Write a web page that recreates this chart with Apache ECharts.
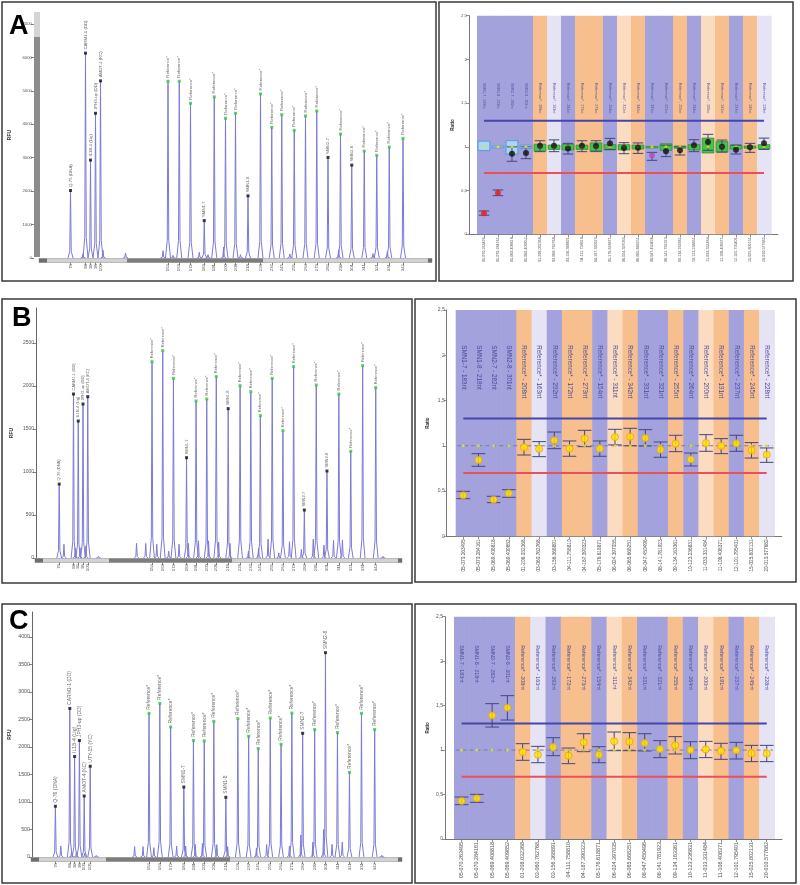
<!DOCTYPE html>
<html><head><meta charset="utf-8">
<script src="https://cdn.jsdelivr.net/npm/echarts@6/dist/echarts.min.js"></script>
<style>html,body{margin:0;padding:0;background:#fff}#c{width:800px;height:885px}</style>
</head><body><div id="c"></div>
<script>
// ================= DATA =================
// Electropherograms: fragment sizes (nt), peak names, peak heights (RFU)
const sizesAB = [76,88,92,96,100,154,163,172,183,191,200,208,218,228,237,245,255,264,273,282,292,301,311,321,331,342];
const sizesC  = [76,88,92,96,100,105,154,163,172,183,191,200,208,218,228,237,245,255,264,273,282,292,301,311,321,331,342];
const namesAB = ['Q-76 (DNA)','CARM1-1 (DD)','IL1B-4 (Lig)','JPH3-up (DD)','AMOT-4 (KC)',
  'Reference*','Reference*','Reference*','SMN1-7','Reference*','Reference*','Reference*','SMN1-8','Reference*','Reference*',
  'Reference*','Reference*','Reference*','Reference*','SMN2-7','Reference*','SMN2-8','Reference*','Reference*','Reference*','Reference*'];
const namesC = ['Q-76 (DNA)','CARM1-1 (DD)','IL1B-4 (Lig)','JPH3-up (DD)','AMOT-4 (KC)','UTY-15 (YC)',
  'Reference*','Reference*','Reference*','SMN1-7','Reference*','Reference*','Reference*','SMN1-8','Reference*','Reference*',
  'Reference*','Reference*','Reference*','Reference*','SMN2-7','Reference*','SMN2-8','Reference*','Reference*','Reference*','Reference*'];
const heightsA = [2020,6130,2930,4330,5300, 5290,5290,4630,1120,4820,4180,4330,1860,4910,3910,4290,3820,4250,4400,3010,3710,2780,3200,3070,3320,3580];
const heightsB = [860,1907,1593,1791,1876, 2283,2411,2089,1167,1826,1849,2109,1737,2004,1934,1655,2089,1481,2225,558,2012,1012,1907,1241,2237,1981];
const heightsC = [923,2702,1828,2118,1110,1651, 2612,2793,2365,1273,2118,2112,2467,1086,2516,2196,1973,2528,2051,2618,2250,2317,3716,2262,1538,2612,2317];
// unlabelled minor peaks [size, RFU]
const minorA = [[86,130],[102,230],[120,150],[150,220],[158,80],[179,170],[186,100],[198.5,330],[212,100],[251.5,120],[290.5,250],[318,130],[329.5,200]];
const minorB = [[80,160],[89.5,115],[93.5,120],[98.5,140],[109,20],[141,170],[148.7,170],[158,160],[168,80],[176.7,160],[184.5,170],[193,200],[201.5,200],[210,185],[219.5,170],[235,80],[243.5,115],[251.5,220],[260.5,60],[269.5,190],[279.5,100],[289.5,220],[298.5,150],[306.5,205],[314,210],[348,20]];
const minorC = [[80.5,200],[89.5,100],[93.5,80],[100.5,70],[110,30],[142,190],[149,190],[158,170],[177,200],[184.5,200],[192.5,230],[198.5,245],[210.5,225],[219.5,190],[243.5,165],[252,225],[271,200],[280.5,400],[290.5,270],[299.5,500],[306.5,230],[315,270],[348,30]];
const rfuTicksA = [0,1000,2000,3000,4000,5000,6000,7000];
const rfuTicksB = [0,500,1000,1500,2000,2500];
const rfuTicksC = [0,500,1000,1500,2000,2500,3000,3500,4000];

// Ratio charts
const probeNames = ['SMN1-7 - 183nt','SMN1-8 - 218nt','SMN2-7 - 282nt','SMN2-8 - 301nt',
  'Reference* - 208nt','Reference* - 163nt','Reference* - 292nt','Reference* - 172nt','Reference* - 273nt','Reference* - 154nt',
  'Reference* - 311nt','Reference* - 342nt','Reference* - 331nt','Reference* - 321nt','Reference* - 255nt','Reference* - 264nt',
  'Reference* - 200nt','Reference* - 191nt','Reference* - 237nt','Reference* - 245nt','Reference* - 228nt'];
const probeLoci = ['05-070.263495','05-070.284161','05-069.408818','05-069.409852','01-208.032368','03-060.762768','03-156.368891',
  '04-111.758810','04-187.390323','05-176.618871','06-024.397035','06-065.668251','08-047.450496','08-141.781923','09-134.163361',
  '10-123.236831','11-033.331484','11-108.408371','12-101.795401','15-025.802131','20-010.577682'];
const bandKinds = ['p','p','p','p','o','l','p','o','o','p','k','o','p','p','o','p','k','o','p','o','l'];
const ratioA = [0.24,0.476,0.922,0.93,1.014,1.014,0.98,1.014,1.01,1.037,0.987,0.99,0.90,0.949,0.96,1.017,1.056,1.002,0.968,0.995,1.04];
const lowA   = [0.218,0.442,0.835,0.865,0.945,0.945,0.918,0.945,0.95,0.97,0.922,0.925,0.846,0.888,0.907,0.945,0.96,0.94,0.918,0.937,0.97];
const highA  = [0.267,0.507,1.0,1.0,1.07,1.08,1.04,1.07,1.07,1.097,1.048,1.045,0.937,1.018,1.0,1.082,1.143,1.078,1.02,1.04,1.1];
const boxLowA  = [0.958,0.99,0.918,0.98,0.95,0.97,0.965,0.97,0.945,0.965,0.965,0.975,0.995,0.96,0.985,0.965,0.93,0.94,0.975,0.985,0.975];
const boxHighA = [1.065,1.01,1.071,1.02,1.03,1.02,1.03,1.02,1.045,1.025,1.025,1.02,1.005,1.035,1.01,1.025,1.1,1.06,1.02,1.01,1.025];
const ratioB = [0.453,0.843,0.405,0.475,0.983,0.965,1.06,0.968,1.079,0.968,1.097,1.1,1.086,0.957,1.024,0.85,1.031,1.0,1.027,0.95,0.902];
const lowB   = [0.416,0.773,0.372,0.431,0.898,0.88,0.968,0.884,0.99,0.884,1.01,1.0,0.998,0.873,0.935,0.777,0.939,0.913,0.939,0.865,0.817];
const highB  = [0.497,0.913,0.442,0.515,1.071,1.046,1.152,1.053,1.171,1.053,1.182,1.193,1.178,1.042,1.116,0.92,1.123,1.079,1.116,1.035,0.976];
const ratioC = [0.427,0.457,1.39,1.477,0.978,0.948,1.034,0.937,1.087,0.948,1.098,1.094,1.079,1.012,1.053,1.001,1.008,0.99,0.997,0.963,0.96];
const lowC   = [0.386,0.412,1.259,1.338,0.885,0.858,0.937,0.847,0.982,0.858,0.993,0.993,0.99,0.915,0.956,0.903,0.915,0.896,0.9,0.87,0.87];
const highC  = [0.472,0.502,1.522,1.612,1.072,1.042,1.139,1.023,1.184,1.038,1.203,1.196,1.184,1.106,1.151,1.094,1.098,1.076,1.087,1.053,1.053];
const thresholds = [0.7, 1.3];
const normalRatio = 1;
const ratioTicks = [0,0.5,1,1.5,2,2.5];

// ================= STYLE / LAYOUT =================
const FONT = 'Liberation Sans, Arial, sans-serif';
const TRACE = '#7b7bd8';
const BAND = {p:'#a3a2dc', o:'#f6bf8d', k:'#fcdcc0', l:'#e5e3f4'};
const option = {animation:false, backgroundColor:'#ffffff', grid:[], xAxis:[], yAxis:[], series:[], graphic:[]};

function addEP(c) {
  const gi = option.grid.length;
  option.grid.push({left:c.left, top:c.top, width:c.width, height:c.height, containLabel:false, outerBoundsMode:'none'});
  option.xAxis.push({type:'value', gridIndex:gi, min:c.xMin, max:c.xMax, offset:4,
    axisLine:{show:false, onZero:false}, splitLine:{show:false},
    axisTick:{show:true, customValues:c.sizes, length:3, lineStyle:{color:'#666', width:0.8}},
    axisLabel:{show:true, customValues:c.sizes, rotate:90, fontSize:4.3, color:'#555', fontFamily:FONT, margin:2,
      formatter: v => String(v)}});
  option.yAxis.push({type:'value', gridIndex:gi, min:0, max:c.yMax, offset:c.yOffset,
    name:'RFU', nameLocation:'middle', nameRotate:90, nameGap:c.nameGap,
    nameTextStyle:{fontSize:5, fontWeight:'bold', color:'#333', fontFamily:FONT},
    axisLine:{show:c.yLine, onZero:false, lineStyle:{color:'#666', width:1}},
    axisTick:{show:true, customValues:c.ticks, length:3, lineStyle:{color:'#666', width:0.8}},
    axisLabel:{show:true, customValues:c.ticks, fontSize:c.yFont, color:'#555', fontFamily:FONT, margin:2,
      formatter: v => String(v)},
    splitLine:{show:false}});
  const all = c.sizes.map((s,i)=>[s,c.heights[i]]).concat(c.minor);
  option.series.push({type:'custom', xAxisIndex:gi, yAxisIndex:gi, silent:true, z:2,
    data: all, encode:{x:0, y:1},
    renderItem:(p, api) => {
      const s = api.value(0), h = api.value(1), w = 2.0;
      const pts = [[s-w,0],[s-w*0.3,h*0.1],[s,h],[s+w*0.3,h*0.1],[s+w,0]].map(q => api.coord(q));
      return {type:'polyline', shape:{points:pts}, style:{stroke:TRACE, lineWidth:1, fill:null}};
    }});
  option.series.push({type:'scatter', xAxisIndex:gi, yAxisIndex:gi, symbol:'rect', symbolSize:3, z:4, silent:true,
    data: c.sizes.map((s,i)=>({name:c.names[i], value:[s,c.heights[i]],
      itemStyle:{color: c.names[i]==='Reference*' ? '#39c639' : '#111'}})),
    label:{show:true, position:'top', distance:2, rotate:90, align:'left', verticalAlign:'middle',
      formatter:'{b}', fontSize:c.pFont, color:'#444', fontFamily:FONT}});
  // scrollbar decorations
  const by = c.top + c.height;
  option.graphic.push(
    {type:'rect', shape:{x:c.left-1, y:by+0.5, width:c.width, height:4}, style:{fill:'#d2d2d2', stroke:'#9a9a9a', lineWidth:0.6}, z:50},
    {type:'rect', shape:{x:c.thumb[0], y:by+0.5, width:c.thumb[1]-c.thumb[0], height:4}, style:{fill:'#7d7d7d'}, z:51},
    {type:'rect', shape:{x:c.left-1, y:by+0.5, width:8, height:4}, style:{fill:'#6e6e6e'}, z:51},
    {type:'rect', shape:{x:c.left+c.width-5, y:by+0.5, width:4, height:4}, style:{fill:'#6e6e6e'}, z:51});
}

function addRatio(c) {
  const gi = option.grid.length;
  const idx = probeNames.map((_,i)=>i);
  const n = probeNames.length;
  const rMax = ratioTicks[ratioTicks.length-1];
  option.grid.push({left:c.left, top:c.top, width:c.width, height:c.height, containLabel:false, outerBoundsMode:'none'});
  option.xAxis.push({type:'value', gridIndex:gi, min:c.xMin, max:c.xMax,
    axisLine:{show:true, onZero:false, lineStyle:{color:'#777', width:1}}, splitLine:{show:false},
    axisTick:{show:true, customValues:idx, length:3, lineStyle:{color:'#777', width:0.8}},
    axisLabel:{show:true, customValues:idx, rotate:90, fontSize:c.xFont, color:'#555', fontFamily:FONT, margin:3,
      formatter: v => probeLoci[Math.round(v)]}});
  option.yAxis.push({type:'value', gridIndex:gi, min:0, max:rMax,
    name:'Ratio', nameLocation:'middle', nameRotate:90, nameGap:c.nameGap,
    nameTextStyle:{fontSize:4.5, fontWeight:'bold', color:'#333', fontFamily:FONT},
    axisLine:{show:true, onZero:false, lineStyle:{color:'#777', width:1}},
    axisTick:{show:true, customValues:ratioTicks, length:3, lineStyle:{color:'#777', width:0.8}},
    axisLabel:{show:true, customValues:ratioTicks, fontSize:c.yFont, color:'#555', fontFamily:FONT, margin:2,
      formatter: v => String(v).replace('.', ',')},
    splitLine:{show:false}});
  // bands + probe names
  option.series.push({type:'custom', xAxisIndex:gi, yAxisIndex:gi, silent:true, z:1,
    data: idx.map(i=>[i, rMax]), encode:{x:0, y:1},
    renderItem:(p, api) => {
      const i = api.value(0);
      const a = api.coord([i-0.5, rMax]), b = api.coord([i+0.5, 0]);
      const t = api.coord([i, c.textAt]);
      return {type:'group', children:[
        {type:'rect', shape:{x:a[0], y:a[1], width:b[0]-a[0]+0.6, height:b[1]-a[1]}, style:{fill:BAND[bandKinds[i]]}},
        {type:'text', x:t[0], y:t[1], rotation:-Math.PI/2,
          style:{text:probeNames[i], fill:'#4a4a9c', font:c.bFont+'px '+FONT, align:'left', verticalAlign:'middle'}}
      ]};
    }});
  // threshold lines
  const tcol = ['#e8505c','#4646a8'];
  thresholds.forEach((t,k)=>{
    option.series.push({type:'line', xAxisIndex:gi, yAxisIndex:gi, silent:true, z:3, symbol:'none',
      data:[[0,t],[n-1,t]], lineStyle:{color:tcol[k], width:2}});
  });
  if (c.dashed) {
    option.series.push({type:'line', xAxisIndex:gi, yAxisIndex:gi, silent:true, z:3, symbol:'none',
      data:[[-0.4,normalRatio],[n-0.6,normalRatio]], lineStyle:{color:'#7a7aa6', width:1, type:[4,3]}});
  }
  if (c.boxLow) {
    option.series.push({type:'custom', xAxisIndex:gi, yAxisIndex:gi, silent:true, z:4,
      data: idx.map(i=>[i, c.boxLow[i], c.boxHigh[i]]), encode:{x:0, y:[1,2]},
      renderItem:(p, api) => {
        const i = api.value(0);
        const a = api.coord([i-0.42, api.value(2)]), b = api.coord([i+0.42, api.value(1)]);
        const smn = probeNames[i].indexOf('SMN')===0;
        return {type:'rect', shape:{x:a[0], y:a[1], width:b[0]-a[0], height:Math.max(b[1]-a[1],1.5)},
          style:{fill: smn ? '#a9d7f2' : '#47c147', stroke: smn ? '#4f8fd0' : '#2f8f35', lineWidth:0.8}};
      }});
  }
  // error bars
  option.series.push({type:'custom', xAxisIndex:gi, yAxisIndex:gi, silent:true, z:5,
    data: idx.map(i=>[i, c.low[i], c.high[i]]), encode:{x:0, y:[1,2]},
    renderItem:(p, api) => {
      const i = api.value(0);
      const a = api.coord([i, api.value(2)]), b = api.coord([i, api.value(1)]);
      const hw = api.size([c.cap, 0])[0]/2;
      const st = {stroke:'#45457f', lineWidth:1};
      return {type:'group', children:[
        {type:'line', shape:{x1:a[0], y1:a[1], x2:b[0], y2:b[1]}, style:st},
        {type:'line', shape:{x1:a[0]-hw, y1:a[1], x2:a[0]+hw, y2:a[1]}, style:st},
        {type:'line', shape:{x1:b[0]-hw, y1:b[1], x2:b[0]+hw, y2:b[1]}, style:st}
      ]};
    }});
  // expected ratio marker
  option.series.push({type:'scatter', xAxisIndex:gi, yAxisIndex:gi, silent:true, z:6, symbol:'circle', symbolSize:3,
    data: idx.map(i=>[i, normalRatio]), itemStyle:{color:'#e6e61e'}});
  // sample ratios
  option.series.push({type:'scatter', xAxisIndex:gi, yAxisIndex:gi, silent:true, z:7, symbol:'circle', symbolSize:c.dot,
    data: idx.map(i=>({value:[i, c.ratio[i]], itemStyle:c.dotStyle(i)}))});
}

addEP({left:40, top:12, width:393, height:246, xMin:51.6, xMax:366, yMax:7360, yOffset:6, yLine:false, nameGap:22,
  ticks:rfuTicksA, yFont:4.3, pFont:4.3, sizes:sizesAB, names:namesAB, heights:heightsA, minor:minorA, thumb:[127,263]});
addEP({left:36, top:308, width:367, height:250, xMin:56.5, xMax:364.9, yMax:2907, yOffset:0, yLine:true, nameGap:22,
  ticks:rfuTicksB, yFont:5, pFont:4, sizes:sizesAB, names:namesAB, heights:heightsB, minor:minorB, thumb:[109,232]});
addEP({left:32, top:612, width:371, height:245, xMin:56.5, xMax:365.6, yMax:4455, yOffset:0, yLine:true, nameGap:20,
  ticks:rfuTicksC, yFont:5.3, pFont:5, sizes:sizesC, names:namesC, heights:heightsC, minor:minorC, thumb:[106,230]});

addRatio({left:469, top:15.7, width:309, height:218.6, xMin:-1.07, xMax:21.0, nameGap:14, xFont:3.7, yFont:4.3, bFont:3.6,
  textAt:1.73, cap:0.75, dot:6, ratio:ratioA, low:lowA, high:highA, boxLow:boxLowA, boxHigh:boxHighA, dashed:false,
  dotStyle: i => ({color: i<2 ? '#f01c1c' : (i===12 ? '#b050c8' : '#111111')})});
addRatio({left:446.7, top:310, width:335, height:226.3, xMin:-1.093, xMax:20.99, nameGap:16, xFont:4.8, yFont:5, bFont:6.3,
  textAt:2.11, cap:0.9, dot:7, ratio:ratioB, low:lowB, high:highB, dashed:true,
  dotStyle: i => ({color:'#ffe600', borderColor:'#f0a000', borderWidth:1})});
addRatio({left:445, top:616.7, width:337, height:222.3, xMin:-1.09, xMax:21.0, nameGap:15, xFont:5.4, yFont:5, bFont:5.3,
  textAt:2.18, cap:0.9, dot:7, ratio:ratioC, low:lowC, high:highC, dashed:true,
  dotStyle: i => ({color:'#ffe600', borderColor:'#f0a000', borderWidth:1})});

// vertical scrollbar in panel A
option.graphic.push(
  {type:'rect', shape:{x:34, y:12, width:6, height:245}, style:{fill:'#8c8c8c'}, z:50},
  {type:'rect', shape:{x:34, y:12, width:6, height:25}, style:{fill:'#d4d4d4'}, z:51});
// panel frames
[[2,2,434,279],[439,2,354,279],[2,299,410,284],[415,299,381,283],[2,604,410,279],[415,604,381,279]].forEach(r=>{
  option.graphic.push({type:'rect', shape:{x:r[0], y:r[1], width:r[2], height:r[3]}, style:{fill:null, stroke:'#3a3a3a', lineWidth:1.5}, z:60});
});
// panel letters
[['A',9,13],['B',12,305],['C',9,608]].forEach(l=>{
  option.graphic.push({type:'text', x:l[1], y:l[2], z:61,
    style:{text:l[0], font:'bold 27px '+FONT, fill:'#000', align:'left', verticalAlign:'top'}});
});

const chart = echarts.init(document.getElementById('c'), null, {renderer:'canvas', width:800, height:885});
chart.setOption(option);
</script></body></html>
